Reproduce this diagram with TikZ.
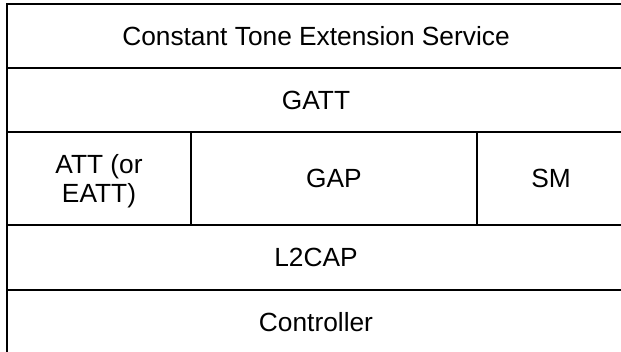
\documentclass[tikz,border=0pt]{standalone}
\usepackage{fontspec}
\setmainfont{Liberation Sans}
\begin{document}
\begin{tikzpicture}[x=1pt,y=-1pt,
  cell/.style={draw=black, line width=2pt, inner sep=0pt, outer sep=0pt,
    align=center, text depth=0pt,
    font=\fontsize{26.3}{29.3}\selectfont}]
\useasboundingbox (0,0) rectangle (621,351);
\clip (0,0) rectangle (621,351);
\fill[white] (0,0) rectangle (621,351);
\node[cell, minimum width=618, minimum height=64] (cte) at (316,36) {Constant Tone Extension Service};
\node[cell, minimum width=618, minimum height=64] (gatt) at (316,100) {GATT};
\node[cell, minimum width=184, minimum height=93] (att) at (99,178.5) {ATT (or\\EATT)};
\node[cell, minimum width=286, minimum height=93] (gap) at (334,178.5) {GAP};
\node[cell, minimum width=148, minimum height=93] (sm) at (551,178.5) {SM};
\node[cell, minimum width=618, minimum height=65] (l2cap) at (316,257.5) {L2CAP};
\node[cell, minimum width=618, minimum height=64] (ctrl) at (316,322) {Controller};
\end{tikzpicture}
\end{document}
